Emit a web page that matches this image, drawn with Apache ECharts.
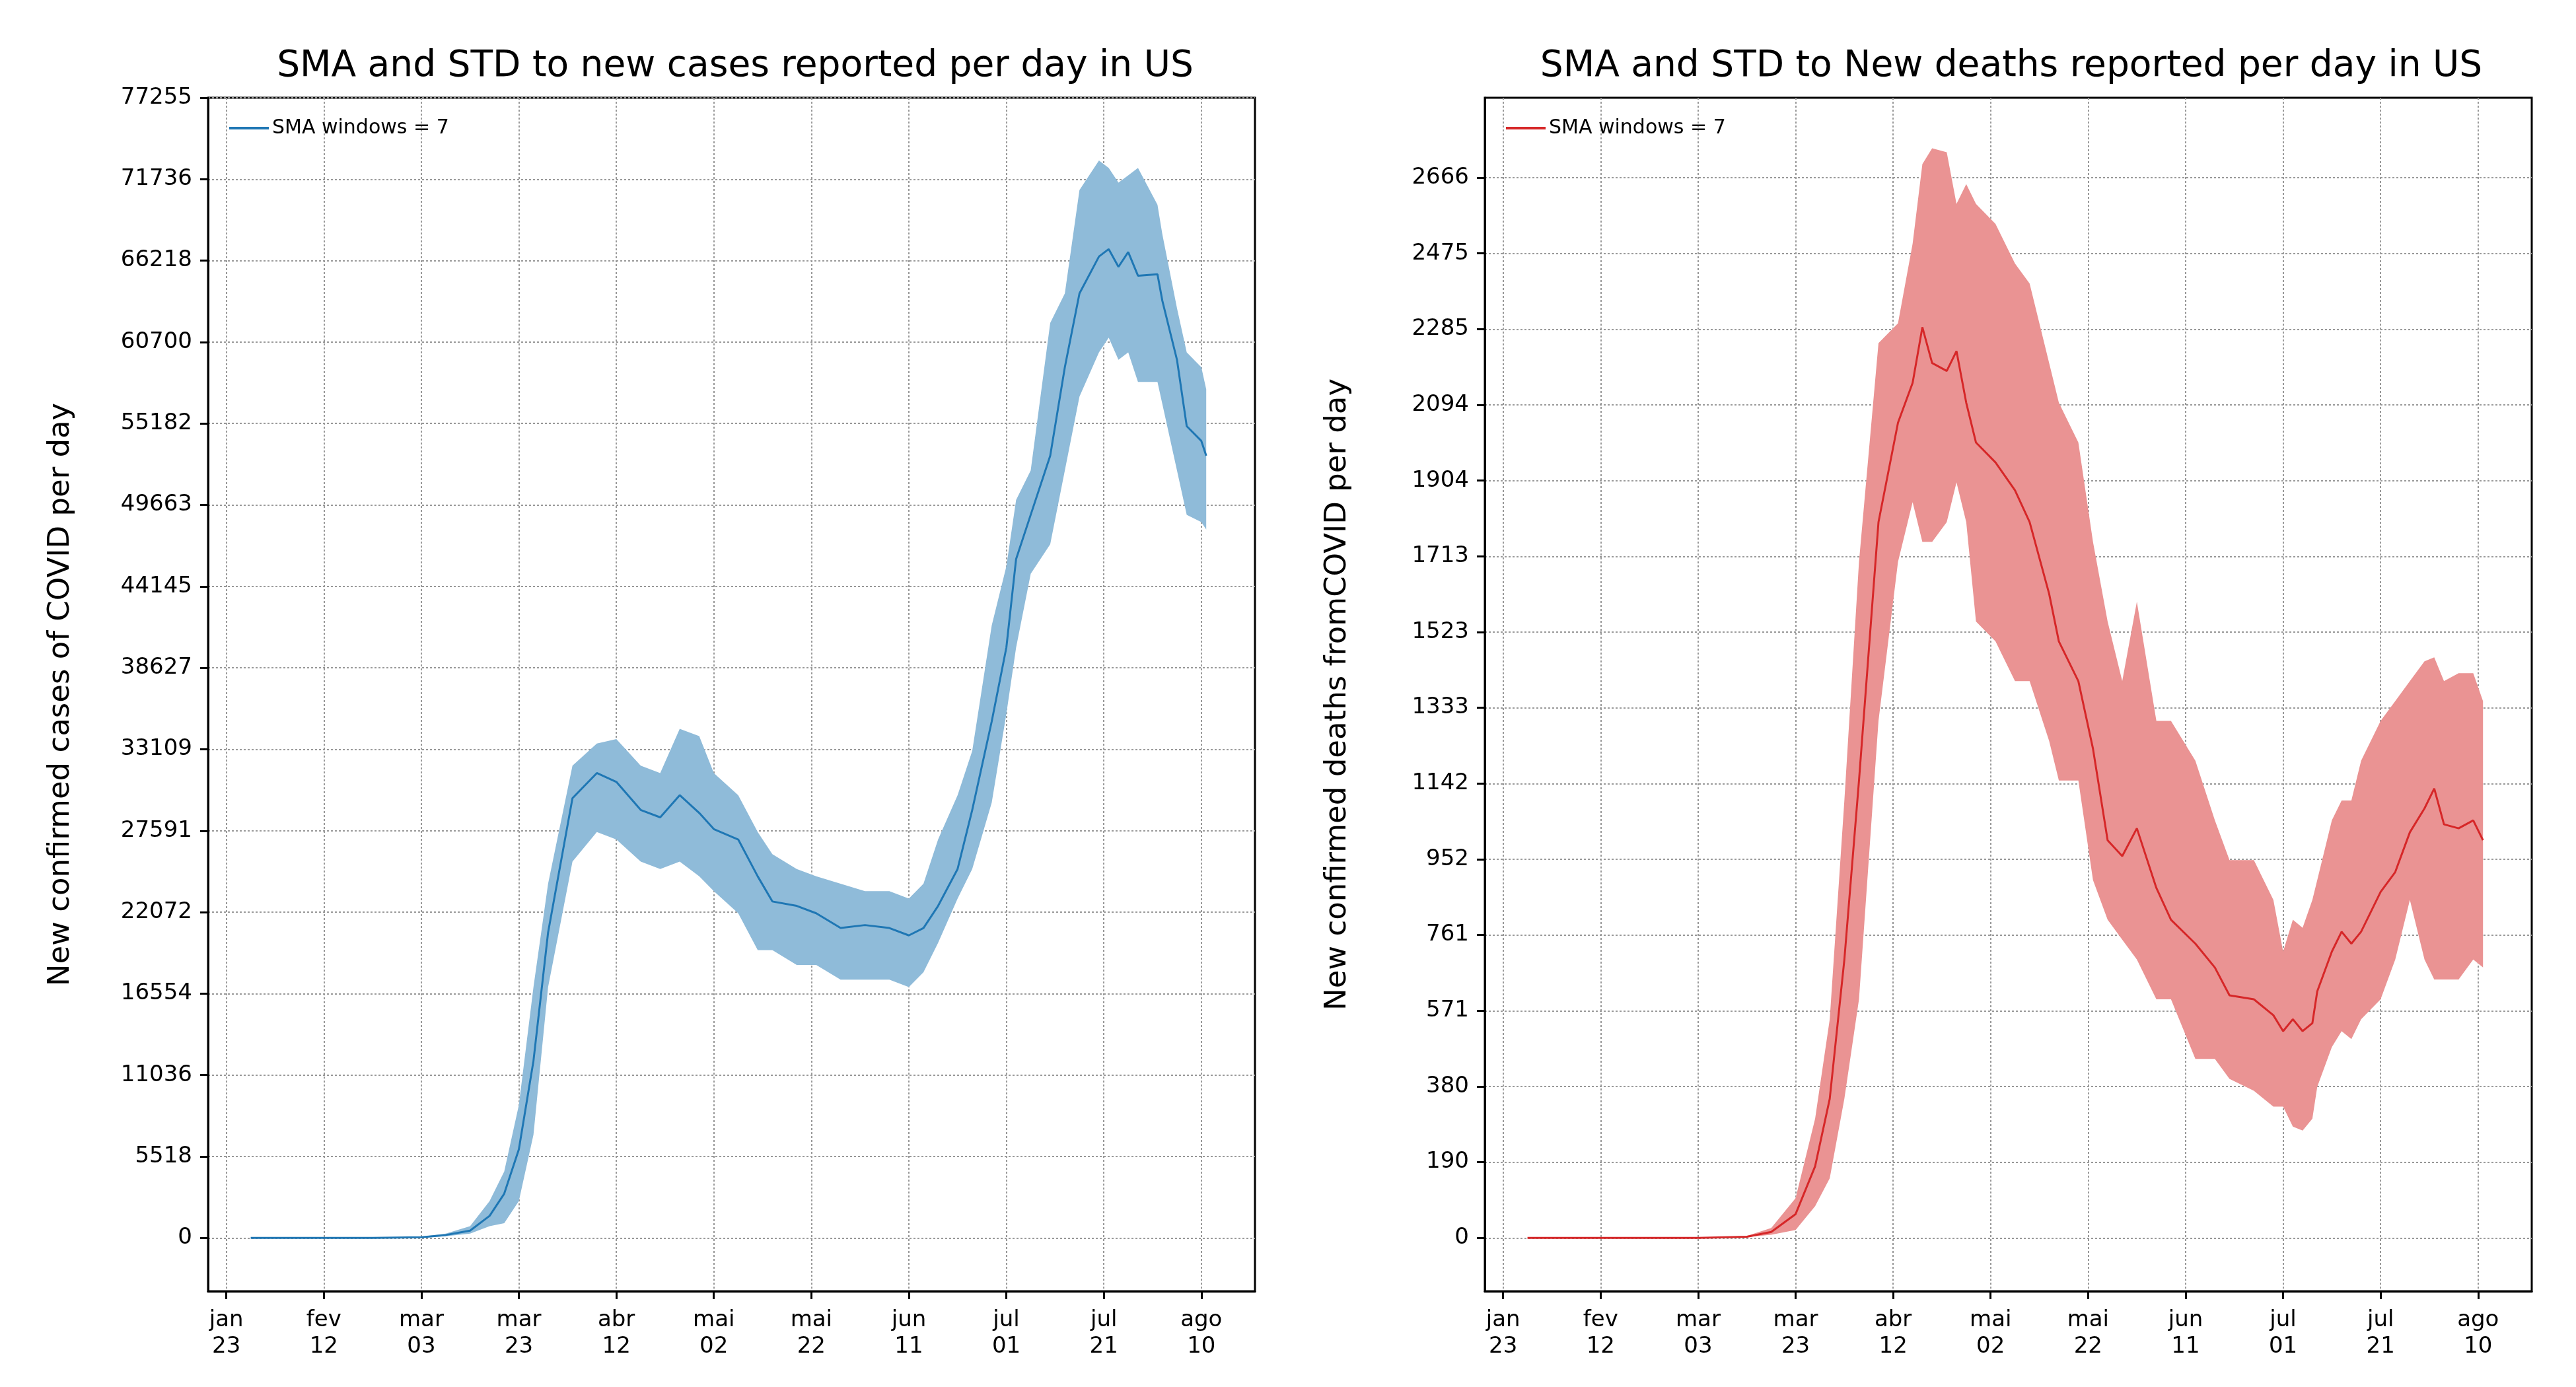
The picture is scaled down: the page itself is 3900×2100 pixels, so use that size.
<!DOCTYPE html>
<html><head><meta charset="utf-8">
<script src="https://cdn.jsdelivr.net/npm/echarts@6/dist/echarts.min.js"></script>
<style>html,body{margin:0;background:#fff}#c{width:3900px;height:2100px}</style>
</head><body><div id="c"></div>
<script>
// days since jan 23
var xTicks = [0,20,40,60,80,100,120,140,160,180,200];
var xTickLabels = ['jan\n23','fev\n12','mar\n03','mar\n23','abr\n12','mai\n02','mai\n22','jun\n11','jul\n01','jul\n21','ago\n10'];

// cases
var casesDays  = [5,10,20,30,40,45,50,54,57,60,63,66,71,76,80,85,89,93,97,100,105,109,112,117,121,126,131,136,140,143,146,150,153,157,160,162,165,169,172,175,179,181,183,185,187,191,192,195,197,200,201];
var casesMean  = [0,0,0,0,50,200,500,1500,3000,6000,12000,20700,29800,31500,30900,29000,28500,30000,28800,27700,27000,24500,22800,22500,22000,21000,21200,21000,20500,21000,22500,25000,29000,35000,40000,46000,49000,53000,59000,64000,66500,67000,65800,66800,65200,65300,63500,59500,55000,54000,53000];
var casesLower = [0,0,0,0,30,120,300,800,1000,2500,7000,17000,25500,27500,27000,25500,25000,25500,24500,23500,22000,19500,19500,18500,18500,17500,17500,17500,17000,18000,20000,23000,25000,29500,35500,40000,45000,47000,52000,57000,60000,61000,59500,60000,58000,58000,56500,52000,49000,48500,48000];
var casesUpper = [0,0,0,0,80,300,800,2500,4500,9000,17000,24000,32000,33500,33800,32000,31500,34500,34000,31500,30000,27500,26000,25000,24500,24000,23500,23500,23000,24000,27000,30000,33000,41500,45500,50000,52000,62000,64000,71000,73000,72500,71500,72000,72500,70000,68000,63000,60000,59000,57500];
var casesTicks = [0,1,2,3,4,5,6,7,8,9,10,11,12,13,14].map(function(k){return 77255/14*k;});

// deaths
var deathsDays  = [5,20,40,50,55,60,64,67,70,73,77,81,84,86,88,91,93,95,97,101,105,108,112,114,118,121,124,127,130,134,137,142,146,149,154,158,160,162,164,166,167,170,172,174,176,180,183,186,189,191,193,196,199,201];
var deathsMean  = [0,0,0,3,15,60,180,350,700,1150,1800,2050,2150,2290,2200,2180,2230,2100,2000,1950,1880,1800,1620,1500,1400,1230,1000,960,1030,880,800,740,680,610,600,560,520,550,520,540,620,720,770,740,770,870,920,1020,1080,1130,1040,1030,1050,1000];
var deathsLower = [0,0,0,2,8,20,80,150,350,600,1300,1700,1850,1750,1750,1800,1900,1800,1550,1500,1400,1400,1250,1150,1150,900,800,750,700,600,600,450,450,400,370,330,330,280,270,300,380,480,520,500,550,600,700,850,700,650,650,650,700,680];
var deathsUpper = [0,0,0,5,25,100,300,550,1100,1700,2250,2300,2500,2700,2740,2730,2600,2650,2600,2550,2450,2400,2200,2100,2000,1750,1550,1400,1600,1300,1300,1200,1050,950,950,850,720,800,780,850,900,1050,1100,1100,1200,1300,1350,1400,1450,1460,1400,1420,1420,1350];
var deathsTicks = [0,1,2,3,4,5,6,7,8,9,10,11,12,13,14].map(function(k){return 2666/14*k;});

function pairs(xs, ys) { return xs.map(function(x,i){return [x, ys[i]];}); }

var axisTxt = {color:'#000', fontSize:34, fontFamily:'DejaVu Sans'};
var split = {show:true, lineStyle:{color:'#999', type:[3,3], width:2}};
var frame = {show:true, onZero:false, lineStyle:{color:'#000', width:3}};

function xAxis(gi) {
  return {type:'value', gridIndex:gi, min:-3.75, max:211, axisLine:frame,
    axisTick:{show:true, length:12, lineStyle:{width:3, color:'#000'}, customValues:xTicks},
    axisLabel:Object.assign({customValues:xTicks, margin:24, lineHeight:40,
      formatter:function(v){return xTickLabels[xTicks.indexOf(v)];}}, axisTxt),
    splitLine:split};
}
function yAxis(gi, min, max, ticks, name) {
  return {type:'value', gridIndex:gi, min:min, max:max, axisLine:frame,
    name:name, nameLocation:'middle', nameGap:200, nameTextStyle:{fontSize:45, color:'#000', fontFamily:'DejaVu Sans'},
    axisTick:{show:true, length:12, lineStyle:{width:3, color:'#000'}, customValues:ticks},
    axisLabel:Object.assign({customValues:ticks, margin:24, formatter:function(v){return Math.floor(v + 1e-6);}}, axisTxt),
    splitLine:split};
}
// std band as one polygon through the axis scales
function bandSeries(gi, days, lo, hi, color) {
  return {type:'custom', xAxisIndex:gi, yAxisIndex:gi, silent:true, z:1,
    data:days.map(function(d,i){return [d, lo[i], hi[i]];}),
    encode:{x:0, y:[1,2]},
    renderItem:function(params, api){
      if (params.dataIndex !== 0) return null;
      var pts = [];
      for (var i = 0; i < days.length; i++) pts.push(api.coord([days[i], hi[i]]));
      for (var j = days.length - 1; j >= 0; j--) pts.push(api.coord([days[j], lo[j]]));
      return {type:'polygon', shape:{points:pts}, style:{fill:color}};
    }};
}

var chart = echarts.init(document.getElementById('c'));
var option = {
  backgroundColor:'#fff',
  animation:false,
  title:[
    {text:'SMA and STD to new cases reported per day in US', left:1108, top:68, textAlign:'center',
     textStyle:{fontSize:55, fontWeight:'normal', color:'#000', fontFamily:'DejaVu Sans'}},
    {text:'SMA and STD to New deaths reported per day in US', left:3040, top:68, textAlign:'center',
     textStyle:{fontSize:55, fontWeight:'normal', color:'#000', fontFamily:'DejaVu Sans'}}
  ],
  legend:[
    {data:['cases'], left:342, top:174, itemWidth:60, itemHeight:4, icon:'rect',
     formatter:function(){return 'SMA windows = 7';}, textStyle:{fontSize:30, color:'#000', fontFamily:'DejaVu Sans'}},
    {data:['deaths'], left:2275, top:174, itemWidth:60, itemHeight:4, icon:'rect',
     formatter:function(){return 'SMA windows = 7';}, textStyle:{fontSize:30, color:'#000', fontFamily:'DejaVu Sans'}}
  ],
  grid:[
    {left:315, top:148, width:1585, height:1807, show:true, borderColor:'#000', borderWidth:3},
    {left:2248, top:148, width:1585, height:1807, show:true, borderColor:'#000', borderWidth:3}
  ],
  xAxis:[xAxis(0), xAxis(1)],
  yAxis:[
    yAxis(0, -3609, 77255, casesTicks, 'New confirmed cases of COVID per day'),
    yAxis(1, -134, 2867, deathsTicks, 'New confirmed deaths fromCOVID per day')
  ],
  series:[
    bandSeries(0, casesDays, casesLower, casesUpper, '#8fbbd9'),
    bandSeries(1, deathsDays, deathsLower, deathsUpper, '#ea9393'),
    {name:'cases', type:'line', xAxisIndex:0, yAxisIndex:0, symbol:'none', color:'#1f77b4',
     lineStyle:{width:3, color:'#1f77b4'}, data:pairs(casesDays, casesMean), z:3},
    {name:'deaths', type:'line', xAxisIndex:1, yAxisIndex:1, symbol:'none', color:'#d62728',
     lineStyle:{width:3, color:'#d62728'}, data:pairs(deathsDays, deathsMean), z:3}
  ]
};
chart.setOption(option);
</script></body></html>
